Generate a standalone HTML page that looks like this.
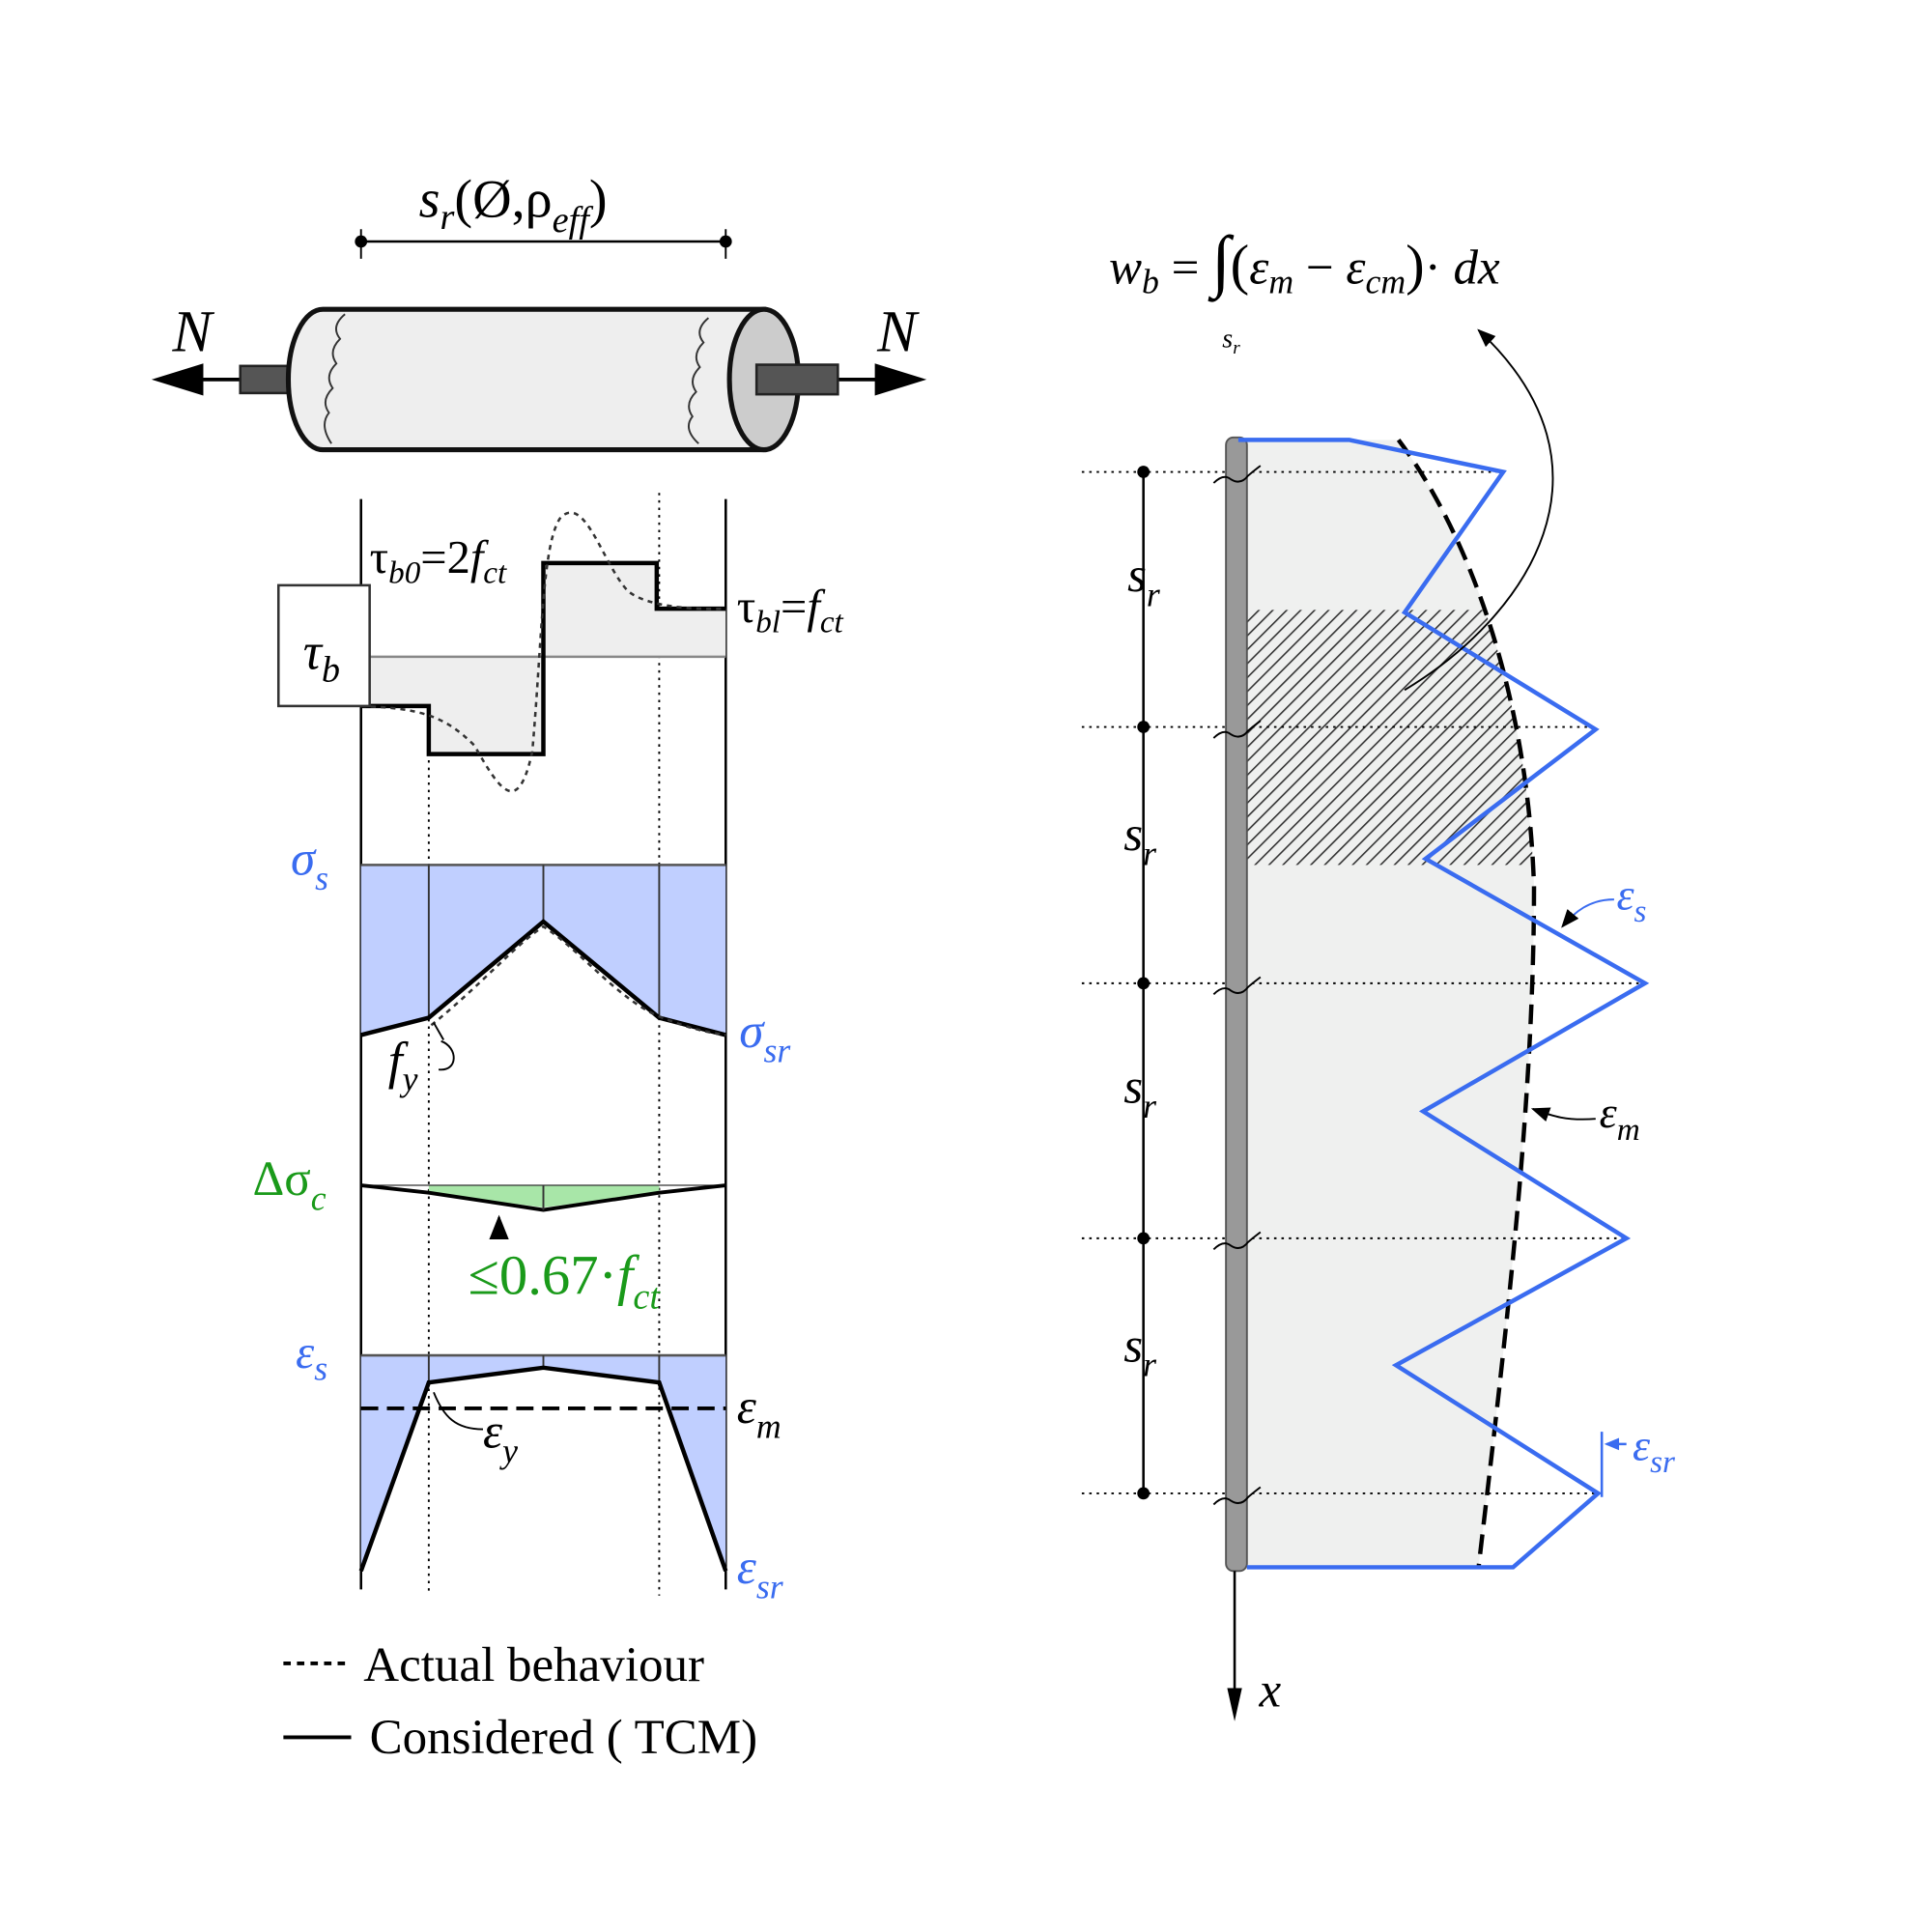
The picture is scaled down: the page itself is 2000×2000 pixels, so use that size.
<!DOCTYPE html>
<html><head><style>html,body{margin:0;padding:0;background:#fff}svg{display:block}
text{font-family:"Liberation Serif",serif}</style></head><body>
<svg width="2000" height="2000" viewBox="0 0 1568 1568" xmlns="http://www.w3.org/2000/svg">
<defs>
<pattern id="h" width="8" height="8" patternUnits="userSpaceOnUse" patternTransform="rotate(45)"><line x1="0" y1="0" x2="0" y2="8" stroke="#333" stroke-width="2.5"/></pattern>
<marker id="ar" markerWidth="10" markerHeight="10" refX="9" refY="5" orient="auto"><path d="M0,1 L10,5 L0,9z" fill="#000"/></marker>
</defs>
<line x1="293" y1="196" x2="589" y2="196" stroke="#000" stroke-width="2"/>
<circle cx="293" cy="196" r="5"/><circle cx="589" cy="196" r="5"/>
<line x1="293" y1="186" x2="293" y2="210" stroke="#000" stroke-width="1.5"/><line x1="589" y1="186" x2="589" y2="210" stroke="#000" stroke-width="1.5"/>
<text x="340" y="176" font-size="44" font-style="italic">s<tspan font-size="30" dy="10">r</tspan><tspan dy="-10" font-style="normal">(Ø,ρ</tspan><tspan font-size="30" dy="12">eff</tspan><tspan dy="-12" font-style="normal">)</tspan></text>
<line x1="130" y1="308" x2="200" y2="308" stroke="#000" stroke-width="3"/>
<path d="M123,308 L165,295 L165,321z"/>
<line x1="680" y1="308" x2="720" y2="308" stroke="#000" stroke-width="3"/>
<path d="M752,308 L710,295 L710,321z"/>
<rect x="195" y="297" width="45" height="22" fill="#555" stroke="#222" stroke-width="2"/>
<path d="M262,251 L620,251 L620,365 L262,365 A28,57 0 0 1 262,251z" fill="#eee" stroke="#111" stroke-width="4"/>
<ellipse cx="620" cy="308" rx="28" ry="57" fill="#ccc" stroke="#111" stroke-width="4"/>
<rect x="614" y="296" width="66" height="24" fill="#555" stroke="#222" stroke-width="2"/>
<path d="M280,255 q-12,10 -4,20 q-10,10 -3,20 q-10,10 -3,20 q-10,10 -3,20 q-8,10 2,25" fill="none" stroke="#333" stroke-width="1.5"/>
<path d="M575,258 q-12,10 -4,20 q-10,10 -3,20 q-10,10 -3,20 q-10,10 -3,20 q-8,10 5,22" fill="none" stroke="#333" stroke-width="1.5"/>
<text x="140" y="285" font-size="48" font-style="italic">N</text>
<text x="712" y="285" font-size="48" font-style="italic">N</text>
<line x1="293" y1="405" x2="293" y2="1290" stroke="#000" stroke-width="2"/>
<line x1="589" y1="405" x2="589" y2="1290" stroke="#000" stroke-width="2"/>
<line x1="348" y1="575" x2="348" y2="1295" stroke="#000" stroke-width="1.5" stroke-dasharray="2,4"/>
<line x1="535" y1="400" x2="535" y2="1295" stroke="#000" stroke-width="1.5" stroke-dasharray="2,4"/>
<path d="M293,533 L293,573 L348,573 L348,612 L441,612 L441,457 L533,457 L533,494 L589,494 L589,533z" fill="#eee"/>
<line x1="293" y1="533" x2="589" y2="533" stroke="#888" stroke-width="2"/>
<path d="M293,573 L348,573 L348,612 L441,612 L441,457 L533,457 L533,494 L589,494" fill="none" stroke="#000" stroke-width="3.5"/>
<path d="M293,573 C340,575 360,580 385,605 C405,640 420,665 432,610 C440,520 440,440 455,420 C475,400 490,460 510,480 C525,492 560,495 589,494" fill="none" stroke="#333" stroke-width="2" stroke-dasharray="4,4"/>
<rect x="226" y="475" width="74" height="98" fill="#fff" stroke="#333" stroke-width="2"/>
<text x="246" y="543" font-size="42" font-style="italic">τ<tspan font-size="30" dy="10">b</tspan></text>
<text x="300" y="465" font-size="38">τ<tspan font-size="26" dy="8" font-style="italic">b0</tspan><tspan dy="-8">=2</tspan><tspan font-style="italic">f</tspan><tspan font-size="26" dy="8" font-style="italic">ct</tspan></text>
<text x="598" y="505" font-size="38">τ<tspan font-size="26" dy="8" font-style="italic">bl</tspan><tspan dy="-8">=</tspan><tspan font-style="italic">f</tspan><tspan font-size="26" dy="8" font-style="italic">ct</tspan></text>
<path d="M293,702 L589,702 L589,840 L535,826 L441,748 L348,826 L293,840z" fill="#c0cfff"/>
<line x1="293" y1="702" x2="589" y2="702" stroke="#555" stroke-width="2"/>
<line x1="348" y1="702" x2="348" y2="826" stroke="#333" stroke-width="1.5"/>
<line x1="441" y1="702" x2="441" y2="748" stroke="#333" stroke-width="1.5"/>
<line x1="535" y1="702" x2="535" y2="826" stroke="#333" stroke-width="1.5"/>
<path d="M293,840 L348,826 L441,748 L535,826 L589,840" fill="none" stroke="#000" stroke-width="3.5"/>
<path d="M350,832 C390,800 420,765 441,752 C470,770 500,810 535,825 C560,835 575,838 589,840" fill="none" stroke="#333" stroke-width="2" stroke-dasharray="4,4"/>
<path d="M358,845 C372,850 372,870 356,868" fill="none" stroke="#000" stroke-width="1.5"/>
<path d="M352,830 l8,14" stroke="#000" stroke-width="1.5"/>
<text x="236" y="710" font-size="40" fill="#3a6cf0" font-style="italic">σ<tspan font-size="28" dy="12">s</tspan></text>
<text x="600" y="850" font-size="40" fill="#3a6cf0" font-style="italic">σ<tspan font-size="28" dy="12">sr</tspan></text>
<text x="315" y="875" font-size="42" font-style="italic">f<tspan font-size="28" dy="10">y</tspan></text>
<path d="M348,968 L441,980 L535,968 L535,962 L348,962z" fill="#a8e6a8"/>
<path d="M293,962 L589,962" stroke="#333" stroke-width="1"/>
<path d="M293,962 L348,968 L441,982 L535,968 L589,962" fill="none" stroke="#000" stroke-width="3"/>
<line x1="441" y1="962" x2="441" y2="982" stroke="#333" stroke-width="1.5"/>
<line x1="405" y1="1005" x2="405" y2="988" stroke="#000" stroke-width="2" marker-end="url(#ar)"/>
<text x="205" y="970" font-size="40" fill="#1a9a1a">Δσ<tspan font-size="28" dy="12" font-style="italic">c</tspan></text>
<text x="380" y="1050" font-size="46" fill="#1a9a1a">≤0.67·<tspan font-style="italic">f</tspan><tspan font-size="30" dy="12" font-style="italic">ct</tspan></text>
<path d="M293,1100 L589,1100 L589,1275 L535,1122 L441,1110 L348,1122 L293,1275z" fill="#c0cfff"/>
<line x1="293" y1="1100" x2="589" y2="1100" stroke="#555" stroke-width="2"/>
<line x1="348" y1="1100" x2="348" y2="1122" stroke="#333" stroke-width="1.5"/>
<line x1="441" y1="1100" x2="441" y2="1110" stroke="#333" stroke-width="1.5"/>
<line x1="535" y1="1100" x2="535" y2="1122" stroke="#333" stroke-width="1.5"/>
<path d="M293,1275 L348,1122 L441,1110 L535,1122 L589,1275" fill="none" stroke="#000" stroke-width="3.5"/>
<line x1="293" y1="1143" x2="589" y2="1143" stroke="#000" stroke-width="3" stroke-dasharray="14,7"/>
<path d="M392,1160 C370,1160 360,1150 352,1130" fill="none" stroke="#000" stroke-width="1.5"/>
<text x="240" y="1110" font-size="38" fill="#3a6cf0" font-style="italic">ε<tspan font-size="28" dy="10">s</tspan></text>
<text x="598" y="1155" font-size="40" font-style="italic">ε<tspan font-size="28" dy="12">m</tspan></text>
<text x="392" y="1175" font-size="40" font-style="italic">ε<tspan font-size="28" dy="12">y</tspan></text>
<text x="598" y="1285" font-size="40" fill="#3a6cf0" font-style="italic">ε<tspan font-size="28" dy="12">sr</tspan></text>
<line x1="230" y1="1350" x2="280" y2="1350" stroke="#000" stroke-width="3" stroke-dasharray="6,5"/>
<text x="295" y="1364" font-size="40">Actual behaviour</text>
<line x1="230" y1="1410" x2="285" y2="1410" stroke="#000" stroke-width="3"/>
<text x="300" y="1423" font-size="40">Considered ( TCM)</text>
<path d="M1012,357 L1135,357 C1190,430 1240,560 1245,720 C1245,900 1220,1100 1200,1272 L1012,1272z" fill="#eff0ef"/>
<clipPath id="cc"><path d="M1012,357 L1135,357 C1190,430 1240,560 1245,720 C1245,900 1220,1100 1200,1272 L1012,1272z"/></clipPath>
<rect x="1012" y="495" width="240" height="207" fill="url(#h)" clip-path="url(#cc)"/>
<path d="M1135,357 C1190,430 1240,560 1245,720 C1245,900 1220,1100 1200,1272" fill="none" stroke="#000" stroke-width="3.5" stroke-dasharray="16,8"/>
<g stroke="#000" stroke-width="1.5" stroke-dasharray="2,4">
<line x1="878" y1="383" x2="1220" y2="383"/><line x1="878" y1="590" x2="1295" y2="590"/><line x1="878" y1="798" x2="1335" y2="798"/><line x1="878" y1="1005" x2="1320" y2="1005"/><line x1="878" y1="1212" x2="1297" y2="1212"/>
</g>
<line x1="928" y1="383" x2="928" y2="1212" stroke="#000" stroke-width="2"/>
<g><circle cx="928" cy="383" r="5"/><circle cx="928" cy="590" r="5"/><circle cx="928" cy="798" r="5"/><circle cx="928" cy="1005" r="5"/><circle cx="928" cy="1212" r="5"/></g>
<rect x="995" y="355" width="17" height="920" rx="6" fill="#999" stroke="#555" stroke-width="1.5"/>
<g fill="none" stroke="#000" stroke-width="1.5">
<path d="M985,392 q8,-8 14,-3 q8,5 14,-3 q6,-5 10,-8"/><path d="M985,599 q8,-8 14,-3 q8,5 14,-3 q6,-5 10,-8"/><path d="M985,807 q8,-8 14,-3 q8,5 14,-3 q6,-5 10,-8"/><path d="M985,1014 q8,-8 14,-3 q8,5 14,-3 q6,-5 10,-8"/><path d="M985,1221 q8,-8 14,-3 q8,5 14,-3 q6,-5 10,-8"/>
</g>
<line x1="1002" y1="1275" x2="1002" y2="1380" stroke="#000" stroke-width="2"/>
<path d="M1002,1397 L996,1370 L1008,1370z"/>
<text x="1022" y="1385" font-size="40" font-style="italic">x</text>
<path d="M1005,357 L1095,357 L1220,383 L1140,497 L1295,592 L1157,697 L1335,798 L1155,902 L1320,1005 L1133,1108 L1297,1212 L1228,1272 L1012,1272" fill="none" stroke="#3a6cf0" stroke-width="3.5"/>
<g font-size="40" font-style="italic">
<text x="915" y="480">s<tspan font-size="28" dy="12">r</tspan></text>
<text x="912" y="690">s<tspan font-size="28" dy="12">r</tspan></text>
<text x="912" y="895">s<tspan font-size="28" dy="12">r</tspan></text>
<text x="912" y="1105">s<tspan font-size="28" dy="12">r</tspan></text>
</g>
<text x="900" y="230" font-size="40" font-style="italic">w<tspan font-size="28" dy="8">b</tspan><tspan dy="-8" font-style="normal"> = </tspan><tspan font-style="normal" font-size="56">∫</tspan><tspan font-style="normal" font-size="46">(</tspan>ε<tspan font-size="28" dy="8">m</tspan><tspan dy="-8" font-style="normal"> − </tspan>ε<tspan font-size="28" dy="8">cm</tspan><tspan dy="-8" font-style="normal" font-size="46">)</tspan><tspan font-style="normal">· </tspan>dx</text>
<text x="992" y="282" font-size="22" font-style="italic">s<tspan font-size="15" dy="5">r</tspan></text>
<path d="M1140,560 C1240,500 1320,380 1200,268" fill="none" stroke="#000" stroke-width="1.5" marker-end="url(#ar)"/>
<path d="M1310,730 C1290,730 1278,740 1268,752" fill="none" stroke="#3a6cf0" stroke-width="1.5" marker-end="url(#ar)"/>
<text x="1312" y="738" font-size="36" fill="#3a6cf0" font-style="italic">ε<tspan font-size="26" dy="10">s</tspan></text>
<path d="M1295,908 C1270,910 1258,905 1244,900" fill="none" stroke="#000" stroke-width="1.5" marker-end="url(#ar)"/>
<text x="1298" y="915" font-size="36" font-style="italic">ε<tspan font-size="26" dy="10">m</tspan></text>
<line x1="1300" y1="1162" x2="1300" y2="1215" stroke="#3a6cf0" stroke-width="2"/>
<line x1="1320" y1="1172" x2="1304" y2="1172" stroke="#3a6cf0" stroke-width="2"/>
<path d="M1302,1172 L1314,1167 L1314,1177z" fill="#3a6cf0"/>
<text x="1325" y="1185" font-size="36" fill="#3a6cf0" font-style="italic">ε<tspan font-size="26" dy="10">sr</tspan></text>
</svg>
</body></html>
